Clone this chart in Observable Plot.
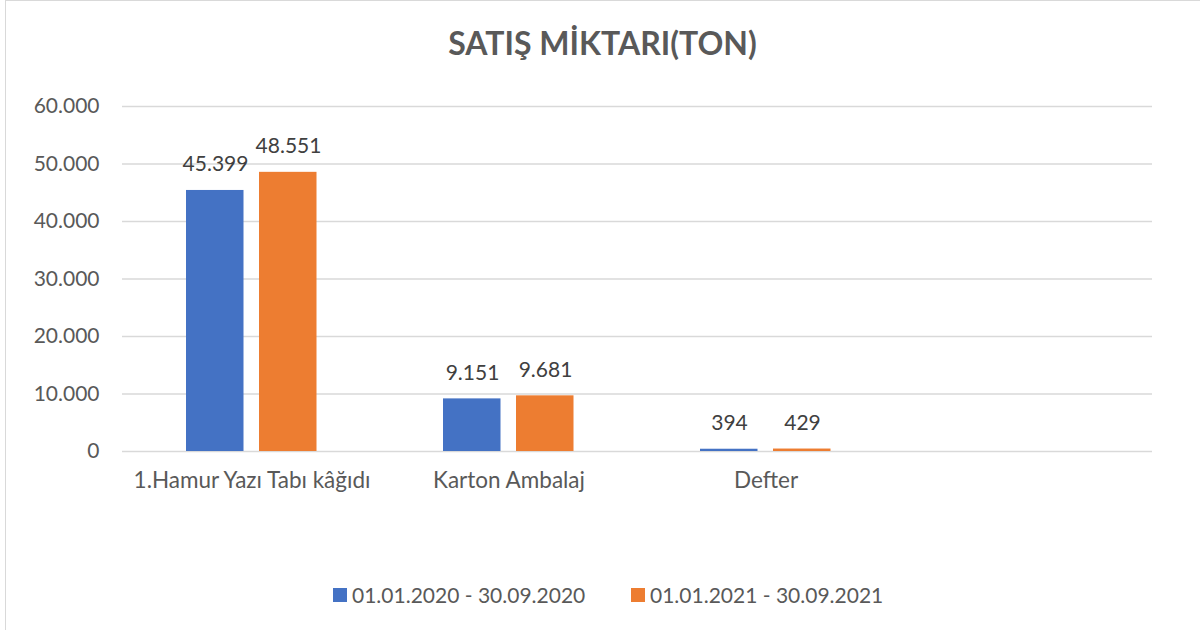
<!DOCTYPE html>
<html>
<head>
<meta charset="utf-8">
<script src="https://cdn.jsdelivr.net/npm/d3@7"></script>
<script src="https://cdn.jsdelivr.net/npm/@observablehq/plot@0.6"></script>
<style>
  html, body { margin: 0; padding: 0; background: #fff; }
  body { width: 1200px; height: 630px; position: relative; overflow: hidden; font-family: Lato, "Noto Sans", sans-serif; }
  #frame { position: absolute; left: 5px; top: 0px; width: 1210px; height: 660px; border: 1.5px solid #d9d9d9; box-sizing: border-box; }
  #title { position: absolute; left: 0; top: 23px; width: 1205px; text-align: center; font-size: 32px; font-weight: bold; color: #595959; line-height: 40px; }
  #chart { position: absolute; left: 0; top: 90px; }
  .leg { position: absolute; top: 583px; display: flex; align-items: center; font-size: 21px; color: #595959; line-height: 24px; }
  .sw { width: 14px; height: 14px; margin-right: 5px; }
</style>
</head>
<body>
<div id="frame"></div>
<div id="title">SATIŞ MİKTARI(TON)</div>
<div id="chart"></div>
<div class="leg" style="left:333px"><div class="sw" style="background:#4472C4"></div><span>01.01.2020 - 30.09.2020</span></div>
<div class="leg" style="left:631px"><div class="sw" style="background:#ED7D31"></div><span>01.01.2021 - 30.09.2021</span></div>
<script>
const categories = ["1.Hamur Yazı Tabı kâğıdı", "Karton Ambalaj", "Defter", ""];
const series = ["01.01.2020 - 30.09.2020", "01.01.2021 - 30.09.2021"];
const values2020 = [45399, 9151, 394];
const values2021 = [48551, 9681, 429];
const yTicks = [0, 10000, 20000, 30000, 40000, 50000, 60000];
const colors = ["#4472C4", "#ED7D31"];

const trLocale = d3.formatLocale({decimal: ",", thousands: ".", grouping: [3], currency: ["", " ₺"]});
const fmt = trLocale.format(",d");

const d2020 = values2020.map((v, i) => ({category: categories[i], series: series[0], value: v}));
const d2021 = values2021.map((v, i) => ({category: categories[i], series: series[1], value: v}));

const plot = Plot.plot({
  width: 1200,
  height: 440,
  marginLeft: 122,
  marginRight: 48,
  marginTop: 16,
  marginBottom: 79,
  style: {fontFamily: "Lato, 'Noto Sans', sans-serif", background: "transparent"},
  x: {domain: categories, padding: 0, label: null},
  y: {domain: [0, 60000], ticks: yTicks, label: null},
  marks: [
    Plot.gridY(yTicks, {stroke: "#d9d9d9", strokeOpacity: 1, strokeWidth: 1.5}),
    Plot.barY(d2020, {x: "category", y: "value", fill: colors[0], insetLeft: 63, insetRight: 136.5}),
    Plot.barY(d2021, {x: "category", y: "value", fill: colors[1], insetLeft: 136, insetRight: 63.5}),
    Plot.text(d2020, {x: "category", y: "value", text: d => fmt(d.value), dx: -36.5, dy: -19, lineAnchor: "bottom", fontSize: 21, fill: "#404040"}),
    Plot.text(d2021, {x: "category", y: "value", text: d => fmt(d.value), dx: 36.5, dy: -19, lineAnchor: "bottom", fontSize: 21, fill: "#404040"}),
    Plot.axisY(yTicks, {tickSize: 0, tickPadding: 23, fontSize: 21, color: "#595959", tickFormat: d => fmt(d)}),
    Plot.axisX({tickSize: 0, tickPadding: 21, fontSize: 22.5, color: "#595959"})
  ]
});
document.getElementById("chart").appendChild(plot);
</script>
</body>
</html>
